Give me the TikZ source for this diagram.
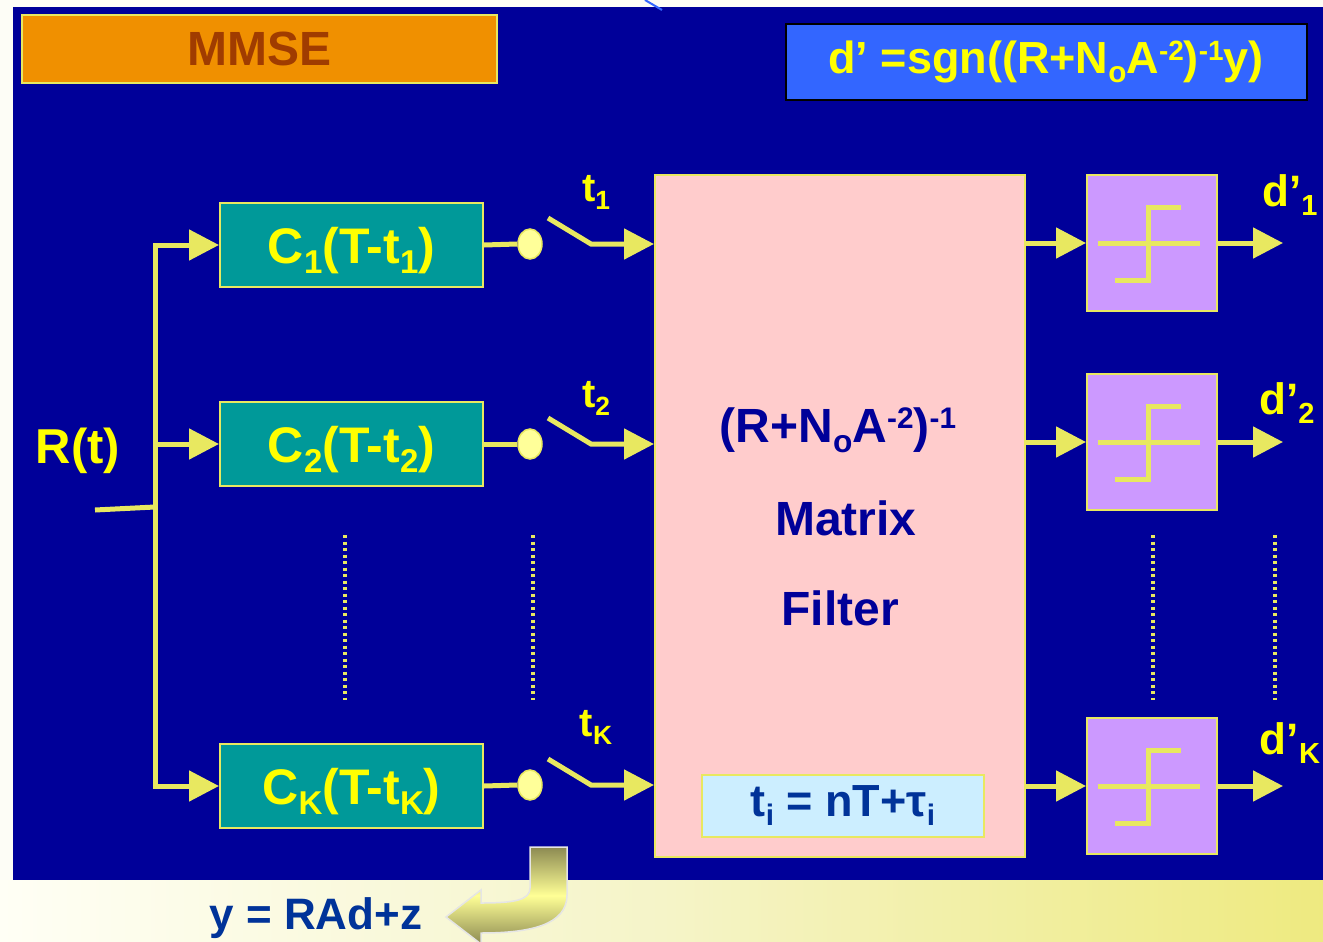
\documentclass[tikz,border=0pt]{standalone}
\usepackage{fontspec}
\setmainfont{Liberation Sans}
\usetikzlibrary{arrows.meta,shapes.geometric}
\definecolor{paper}{RGB}{253,253,246}
\definecolor{bgblue}{RGB}{0,0,153}
\definecolor{lineY}{RGB}{232,232,96}
\definecolor{txtY}{RGB}{255,255,0}
\definecolor{tealbox}{RGB}{0,153,153}
\definecolor{orangebox}{RGB}{240,144,0}
\definecolor{browntxt}{RGB}{160,60,0}
\definecolor{formbox}{RGB}{51,102,255}
\definecolor{pinkbox}{RGB}{255,204,204}
\definecolor{purplebox}{RGB}{204,153,255}
\definecolor{lightblue}{RGB}{204,238,255}
\definecolor{navytxt}{RGB}{0,0,153}
\definecolor{darktxt}{RGB}{0,51,153}
\definecolor{bandL}{RGB}{255,255,245}
\definecolor{bandM}{RGB}{245,244,200}
\definecolor{bandR}{RGB}{238,234,128}
\definecolor{olive}{RGB}{140,138,82}
\definecolor{brightY}{RGB}{255,255,150}
\definecolor{circfill}{RGB}{255,255,153}
\newcommand\mydn[1]{\raisebox{-0.2em}{\scalebox{0.66}{#1}}}
\newcommand\myup[1]{\raisebox{0.3em}{\scalebox{0.62}{#1}}}
\newcommand\fs[1]{\fontsize{#1}{#1}\selectfont\bfseries}
\newcommand\stepsym[1]{%
  \draw[stepl] ([shift={(-54,0)}]#1.center) -- ([shift={(48,0)}]#1.center);
  \draw[stepl] ([shift={(-37,37)}]#1.center) -- ([shift={(-4,37)}]#1.center)
     -- ([shift={(-4,-36)}]#1.center) -- ([shift={(29,-36)}]#1.center);}
\begin{document}
\begin{tikzpicture}[x=1pt,y=-1pt,
  wire/.style={line width=5pt, draw=lineY},
  arr/.style={wire, -{Triangle[length=30pt,width=30pt]}},
  stepl/.style={line width=5pt, draw=lineY},
  dots/.style={line width=4.5pt, draw=lineY, dash pattern=on 3pt off 3.5pt},
  cbox/.style={draw=lineY, line width=2pt, fill=tealbox, text=txtY, font=\fs{50},
     minimum width=263pt, minimum height=84pt, inner sep=0pt, text depth=0pt},
  dbox/.style={draw=lineY, line width=2pt, fill=purplebox,
     minimum width=130pt, minimum height=136pt, inner sep=0pt},
  circ/.style={ellipse, draw=lineY, line width=1.5pt, fill=circfill,
     minimum width=24pt, minimum height=30pt, inner sep=0pt},
  ylab/.style={text=txtY, inner sep=0pt},
  mtxt/.style={text=navytxt, font=\fs{48}, inner sep=0pt}]
\useasboundingbox (0,0) rectangle (1323,942);
% background
\fill[paper] (0,0) rectangle (1323,942);
\fill[bgblue] (13,7) rectangle (1323,880);
\fill[left color=bandL, right color=bandR, middle color=bandM] (0,880) rectangle (1323,942);
\draw[formbox, line width=2pt] (645,0) -- (662,10);
% title boxes
\node[draw=lineY, line width=2pt, fill=orangebox, minimum width=475pt, minimum height=68pt,
  text=browntxt, font=\fs{48}, inner sep=0pt] (mmse) at (259.5,49) {MMSE};
\node[draw=black, line width=2pt, fill=formbox, minimum width=521pt, minimum height=76pt,
  text=txtY, font=\fs{45}, inner sep=0pt] (form) at (1046,62)
  {d’ =sgn((R+N\mydn{o}A\myup{-2})\myup{-1}y)};
% filters
\node[cbox] (c1) at (351.5,245) {C\mydn{1}(T-t\mydn{1})};
\node[cbox] (c2) at (351.5,444) {C\mydn{2}(T-t\mydn{2})};
\node[cbox] (cK) at (351.5,786) {C\mydn{K}(T-t\mydn{K})};
\node[ylab, font=\fs{49}] (rt) at (78,451) {R(t)};
% bus
\coordinate (in) at (95,510);
\coordinate (bj) at (155,507);
\coordinate (b2) at (155,444);
\draw[wire] (in) -- (bj);
\draw[arr] (bj) |- (c1.west);
\draw[arr] (bj) |- (cK.west);
\draw[arr] (b2) -- (c2.west);
% matrix filter
\node[draw=lineY, line width=2pt, fill=pinkbox, minimum width=370pt, minimum height=682pt,
  inner sep=0pt] (mf) at (840,516) {};
\node[mtxt] (m1) at (838,430) {(R+N\mydn{o}A\myup{-2})\myup{-1}};
\node[mtxt] (m2) at (846,518) {Matrix};
\node[mtxt] (m3) at (840,608) {Filter};
\node[draw=lineY, line width=2pt, fill=lightblue, minimum width=282pt, minimum height=62pt,
  text=darktxt, font=\fs{45}, inner sep=0pt] (ti) at (843,806) {t\mydn{i} = nT+τ\mydn{i}};
% samplers
\foreach \n/\y/\lab/\ly in {1/244/1/192, 2/444/2/398, K/785/K/727}{
  \node[circ] (o\n) at (530,\y) {};
  \draw[wire] (c\n.east) -- (o\n.west);
  \coordinate (sa\n) at (548,\y-26);
  \coordinate (sb\n) at (591,\y);
  \draw[arr] (sa\n) -- (sb\n) -- (mf.west |- sb\n);
  \node[ylab, font=\fs{40}] (t\n) at (596,\ly) {t\mydn{\lab}};
}
% decisions
\node[dbox] (d1) at (1152,243) {};
\node[dbox] (d2) at (1152,442) {};
\node[dbox] (dK) at (1152,786) {};
\stepsym{d1}\stepsym{d2}\stepsym{dK}
\foreach \n in {1,2,K}{
  \draw[arr] (mf.east |- d\n.west) -- (d\n.west);
  \coordinate (e\n) at ([xshift=65pt]d\n.east);
  \draw[arr] (d\n.east) -- (e\n);
}
\node[ylab, font=\fs{44}] (l1) at (1290,195) {d’\mydn{1}};
\node[ylab, font=\fs{44}] (l2) at (1287,403) {d’\mydn{2}};
\node[ylab, font=\fs{44}] (lK) at (1290,743) {d’\mydn{K}};
% dotted continuation lines
\draw[dots] (345,535) -- (345,700);
\draw[dots] (533,535) -- (533,700);
\draw[dots] (1153,535) -- (1153,700);
\draw[dots] (1275,535) -- (1275,700);
% bottom curved arrow
\fill[top color=olive, bottom color=olive, middle color=brightY]
  (530,847) -- (567,847) -- (567,895) .. controls (567,925) and (530,933) .. (481,933)
  -- (481,944) -- (446,917) -- (481,890) -- (481,903)
  .. controls (515,903) and (530,900) .. (530,888) -- cycle;
\draw[draw=white!80!gray, line width=1.5pt]
  (530,847) -- (567,847) -- (567,895) .. controls (567,925) and (530,933) .. (481,933)
  -- (481,944) -- (446,917) -- (481,890) -- (481,903)
  .. controls (515,903) and (530,900) .. (530,888) -- cycle;
\node[text=darktxt, font=\fs{44}, inner sep=0pt] (yeq) at (316,918) {y = RAd+z};
\end{tikzpicture}
\end{document}
